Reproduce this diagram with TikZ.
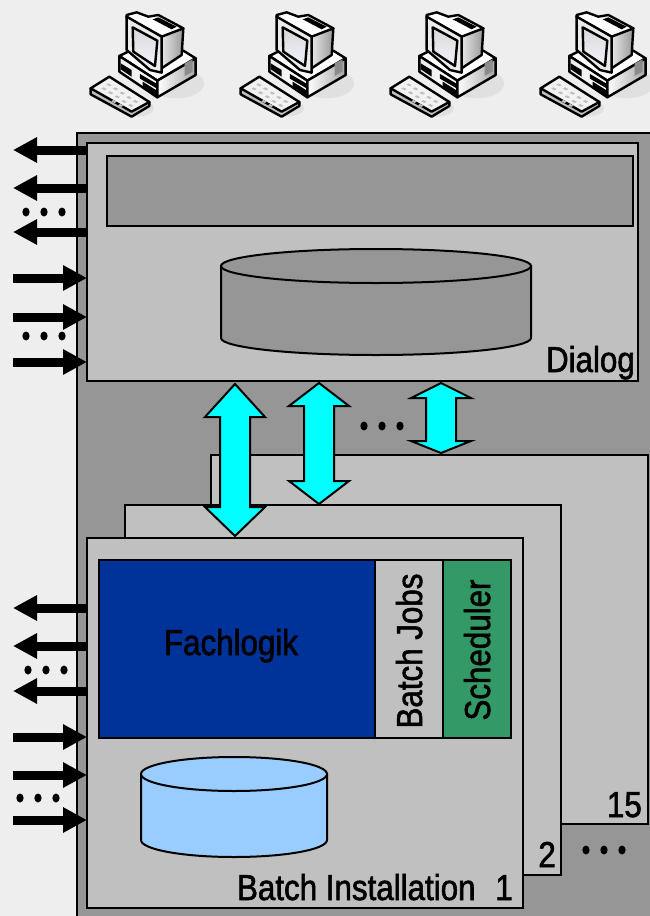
\documentclass[tikz,border=0pt]{standalone}
\usepackage{fontspec}
\setmainfont[FakeStretch=0.87,FakeBold=1.6]{Liberation Sans}
\usetikzlibrary{arrows.meta}
\definecolor{bgc}{HTML}{EEEEEE}
\definecolor{darkg}{HTML}{969696}
\definecolor{boxg}{HTML}{C0C0C0}
\definecolor{fach}{HTML}{003399}
\definecolor{sched}{HTML}{339966}
\definecolor{arrowc}{HTML}{00FFFF}
\definecolor{cylb}{HTML}{99CCFF}
\tikzset{
  x=1pt,y=-1pt,
  frame/.style={draw=black,line width=2pt},
  label/.style={font=\fontsize{36}{36}\selectfont,inner sep=0pt,text=black},
  blockarrow/.style={draw=black,fill=arrowc,line width=2pt,line join=miter},
  sig/.style={draw=black,line width=9pt,-{Triangle[length=24pt,width=24pt,sep=0pt]},shorten >=0pt},
  dotmark/.style={fill=black,draw=none},
  pcline/.style={draw=black,line width=2.4pt,line join=round},
}
\newcommand{\cyl}[6]{% x1,x2,ytop,ybot,ry,color
  \path[frame,fill=#6] (#1,#3) -- (#1,#4) arc[start angle=180,end angle=360,x radius={(#2-#1)/2},y radius=-#5] -- (#2,#3) -- cycle;
  \path[frame,fill=#6] ({(#1+#2)/2},#3) ellipse[x radius={(#2-#1)/2},y radius=#5];
}
\newcommand{\dblarrow}[5]{% cx,top,headbase1,headbase2,bottom
  \path[blockarrow] (#1,#2) -- (#1+30,#3) -- (#1+15,#3) -- (#1+15,#4) -- (#1+30,#4) -- (#1,#5) -- (#1-30,#4) -- (#1-15,#4) -- (#1-15,#3) -- (#1-30,#3) -- cycle;
}
\newcommand{\threedots}[3]{% x1,step,y
  \foreach \k in {0,1,2} \fill[dotmark] (#1+\k*#2,#3) ellipse[x radius=3.6,y radius=4.5];
}
\newcommand{\pcicon}[1]{%
\begin{scope}[shift={(#1,0)},x=0.3333pt,y=-0.3333pt]
  \fill[black!12] (290,250) ellipse[x radius=82,y radius=45];
  \fill[black!12] (170,325) ellipse[x radius=52,y radius=25];
  % base
  \path[pcline,fill=white] (118,168) -- (150,152) -- (310,152) -- (347,175) -- (232,242) -- cycle;
  \path[pcline,left color=black!8,right color=white] (118,168) -- (118,215) -- (232,292) -- (232,242) -- cycle;
  \path[pcline,left color=white,right color=black!35] (232,242) -- (232,292) -- (347,225) -- (347,175) -- cycle;
  \fill[black!45] (314,190) -- (338,178) -- (338,215) -- (314,228) -- cycle;
  \fill[black] (122,190) -- (155,210) -- (155,230) -- (122,208) -- cycle;
  \fill[black] (180,222) -- (228,250) -- (228,264) -- (180,236) -- cycle;
  \fill[black] (188,245) -- (228,270) -- (228,286) -- (188,262) -- cycle;
  % monitor
  \path[pcline,left color=black!10,right color=black!40] (245,105) -- (310,85) -- (305,165) -- (245,205) -- cycle;
  \path[pcline,fill=white] (140,45) -- (170,37) -- (205,50) -- (235,45) -- (310,85) -- (245,110) -- (140,52) -- cycle;
  \fill[black] (218,58) -- (235,52) -- (290,80) -- (275,88) -- cycle;
  \path[pcline,fill=black!8] (140,50) -- (245,110) -- (245,218) -- (210,210) -- (140,150) -- cycle;
  \path[pcline,top color=black!15,bottom color=blue!5] (158,82) -- (232,122) -- (225,198) -- (160,155) -- cycle;
  % keyboard
  \path[pcline,fill=black!25] (32,265) -- (32,283) -- (155,350) -- (208,318) -- (208,306) -- cycle;
  \path[pcline,fill=black!5] (32,265) -- (88,230) -- (208,306) -- (155,335) -- cycle;
  \foreach \u/\v in {85/250,105/262,125/275,145/288,70/262,90/274,110/286,130/300,150/312,100/300,120/312,165/300}
    \fill[black!25] (\u,\v) -- (\u+10,\v+5) -- (\u+4,\v+9) -- (\u-6,\v+4) -- cycle;
\end{scope}}
\newcommand{\sigout}[1]{\coordinate (sa) at (87,#1); \coordinate (sb) at (13,#1); \draw[sig] (sa) -- (sb);}
\newcommand{\sigin}[1]{\coordinate (sa) at (13,#1); \coordinate (sb) at (87,#1); \draw[sig] (sa) -- (sb);}
\begin{document}
\begin{tikzpicture}
\useasboundingbox (0,0) rectangle (650,916);
\fill[bgc] (0,0) rectangle (650,916);
% computers
\pcicon{80}\pcicon{230}\pcicon{380}\pcicon{530}
% system frame
\path[frame,fill=darkg] (77,133) rectangle (660,930);
% dialog
\path[frame,fill=boxg] (87,143) rectangle (638,381);
\path[frame,fill=darkg] (107,156) rectangle (633,226);
\cyl{221}{531}{266}{338}{17}{darkg}
\node[label,anchor=base east] (dialog) at (635,372) {Dialog};
% batch stack
\path[frame,fill=boxg] (211,455) rectangle (648,824);
\path[frame,fill=boxg] (125,505) rectangle (561,875);
\path[frame,fill=boxg] (87,538) rectangle (523,908);
\path[frame,fill=fach] (99,560) rectangle (375,738);
\path[frame,fill=boxg] (375,560) rectangle (443,738);
\path[frame,fill=sched] (443,560) rectangle (511,738);
\node[label,anchor=base] (fachlogik) at (231,655) {Fachlogik};
\node[label,rotate=90,anchor=base] (batchjobs) at (422,651) {Batch Jobs};
\node[label,rotate=90,anchor=base] (scheduler) at (490,650) {Scheduler};
\cyl{141}{327}{774}{840}{17}{cylb}
\node[label,anchor=base east] (n15) at (642,817) {15};
\node[label,anchor=base east] (n2) at (556,867) {2};
\node[label,anchor=base east] (n1) at (513,900) {Batch Installation\hspace{0.55em}1};
\threedots{586}{18}{850}
% double arrows
\dblarrow{235}{384}{417}{507}{536}
\dblarrow{319}{383}{406}{481}{504}
\dblarrow{441}{383}{398}{441}{453}
\threedots{364}{18}{426}
% signals
\foreach \yy in {150,188,232,608,646,691}{\sigout{\yy}}
\foreach \yy in {278,317,362,737,775,820}{\sigin{\yy}}
\threedots{26}{18}{212}
\threedots{26}{18}{336}
\threedots{28}{18}{670}
\threedots{20}{18}{798}
\end{tikzpicture}
\end{document}
